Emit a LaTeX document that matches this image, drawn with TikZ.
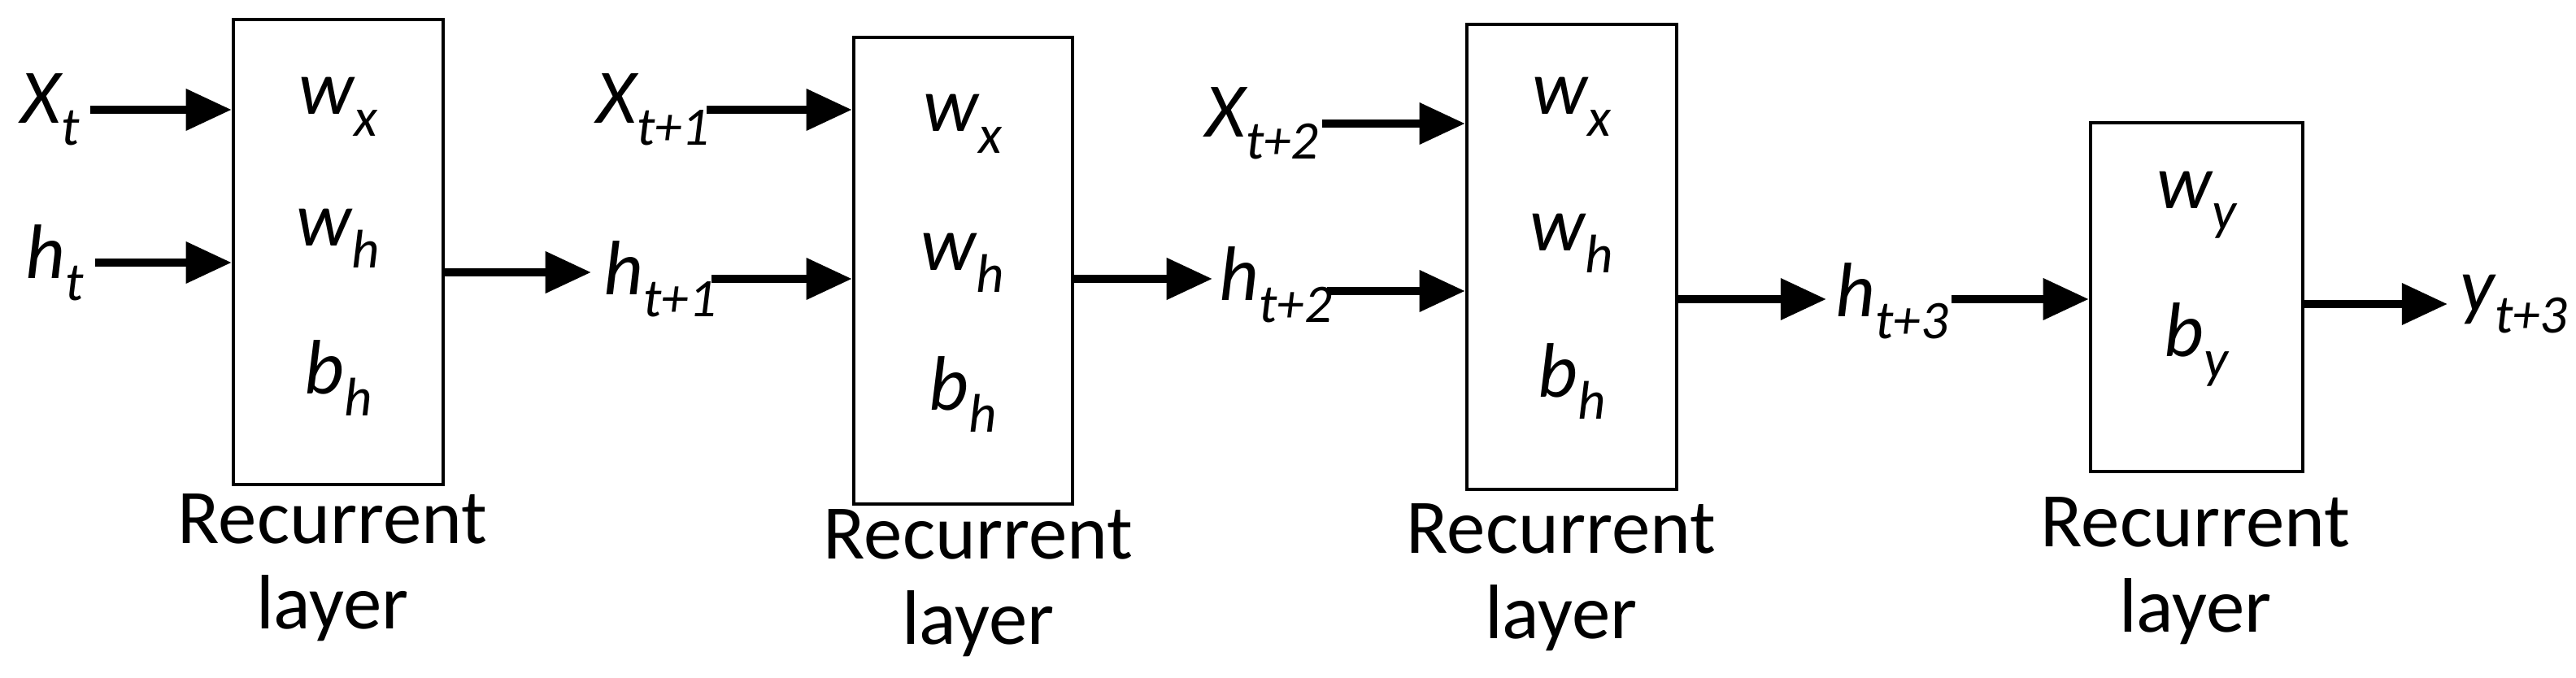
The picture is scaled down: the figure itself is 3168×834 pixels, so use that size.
\documentclass[tikz,border=0pt]{standalone}
\usepackage{fontspec}
\setmainfont{Carlito}
\usetikzlibrary{arrows.meta}
\newcommand{\vsb}[2]{#1\raisebox{-0.28em}{\fontsize{19}{20}\selectfont #2}}
\begin{document}
\begin{tikzpicture}[x=0.01cm,y=-0.01cm,
  box/.style={draw,line width=1.2pt,inner sep=0pt},
  lab/.style={font=\fontsize{27}{32}\selectfont\itshape,inner sep=2pt},
  captxt/.style={font=\fontsize{27}{30}\selectfont,align=center},
  arr/.style={line width=2.8pt,-{Triangle[length=16pt,width=14pt]}}]
\useasboundingbox (0,0) rectangle (3168,834);
% boxes
\node[box,minimum width=2.58cm,minimum height=5.72cm] (b1) at (416,310) {};
\node[box,minimum width=2.69cm,minimum height=5.74cm] (b2) at (1184.5,333) {};
\node[box,minimum width=2.58cm,minimum height=5.72cm] (b3) at (1933,316) {};
\node[box,minimum width=2.61cm,minimum height=4.29cm] (b4) at (2701.5,365.5) {};
% inner labels
\node[lab] (w1x) at (416,131) {\vsb{w}{x}};
\node[lab] (w1h) at (416,293) {\vsb{w}{h}};
\node[lab] (b1h) at (416,465) {\vsb{b}{h}};
\node[lab] (w2x) at (1184,152) {\vsb{w}{x}};
\node[lab] (w2h) at (1184,323) {\vsb{w}{h}};
\node[lab] (b2h) at (1184,485) {\vsb{b}{h}};
\node[lab] (w3x) at (1933,131) {\vsb{w}{x}};
\node[lab] (w3h) at (1933,299) {\vsb{w}{h}};
\node[lab] (b3h) at (1933,469) {\vsb{b}{h}};
\node[lab] (w4y) at (2701,252) {\vsb{w}{y}};
\node[lab] (b4y) at (2701,424) {\vsb{b}{y}};
% captions
\node[captxt] (c1) at (409,698) {Recurrent\\layer};
\node[captxt] (c2) at (1203,717) {Recurrent\\layer};
\node[captxt] (c3) at (1920,710) {Recurrent\\layer};
\node[captxt] (c4) at (2700,702) {Recurrent\\layer};
% outer labels
\node[lab,anchor=west] (xt) at (18,135) {\vsb{X}{t}};
\node[lab,anchor=west] (ht) at (24,323) {\vsb{h}{t}};
\node[lab,anchor=west] (ht1) at (735,343) {\vsb{h}{t+1}};
\node[lab,anchor=west] (xt1) at (726,135) {\vsb{X}{t+1}};
\node[lab,anchor=west] (ht2) at (1492,350) {\vsb{h}{t+2}};
\node[lab,anchor=west] (xt2) at (1475,152) {\vsb{X}{t+2}};
\node[lab,anchor=west] (ht3) at (2250,370) {\vsb{h}{t+3}};
\node[lab,anchor=west] (yt3) at (3018,374) {\vsb{y}{t+3}};
% arrows
\draw[arr] (111,135) -- (111,135 -| b1.west);
\draw[arr] (117,323) -- (117,323 -| b1.west);
\draw[arr] (b1.east |- 0,335) -- (727,335);
\draw[arr] (869,135) -- (869,135 -| b2.west);
\draw[arr] (875,343) -- (875,343 -| b2.west);
\draw[arr] (b2.east |- 0,343) -- (1491,343);
\draw[arr] (1626,152) -- (1626,152 -| b3.west);
\draw[arr] (1632,358) -- (1632,358 -| b3.west);
\draw[arr] (b3.east |- 0,368) -- (2246,368);
\draw[arr] (2400,368) -- (2400,368 -| b4.west);
\draw[arr] (b4.east |- 0,374) -- (3010,374);
\end{tikzpicture}
\end{document}
